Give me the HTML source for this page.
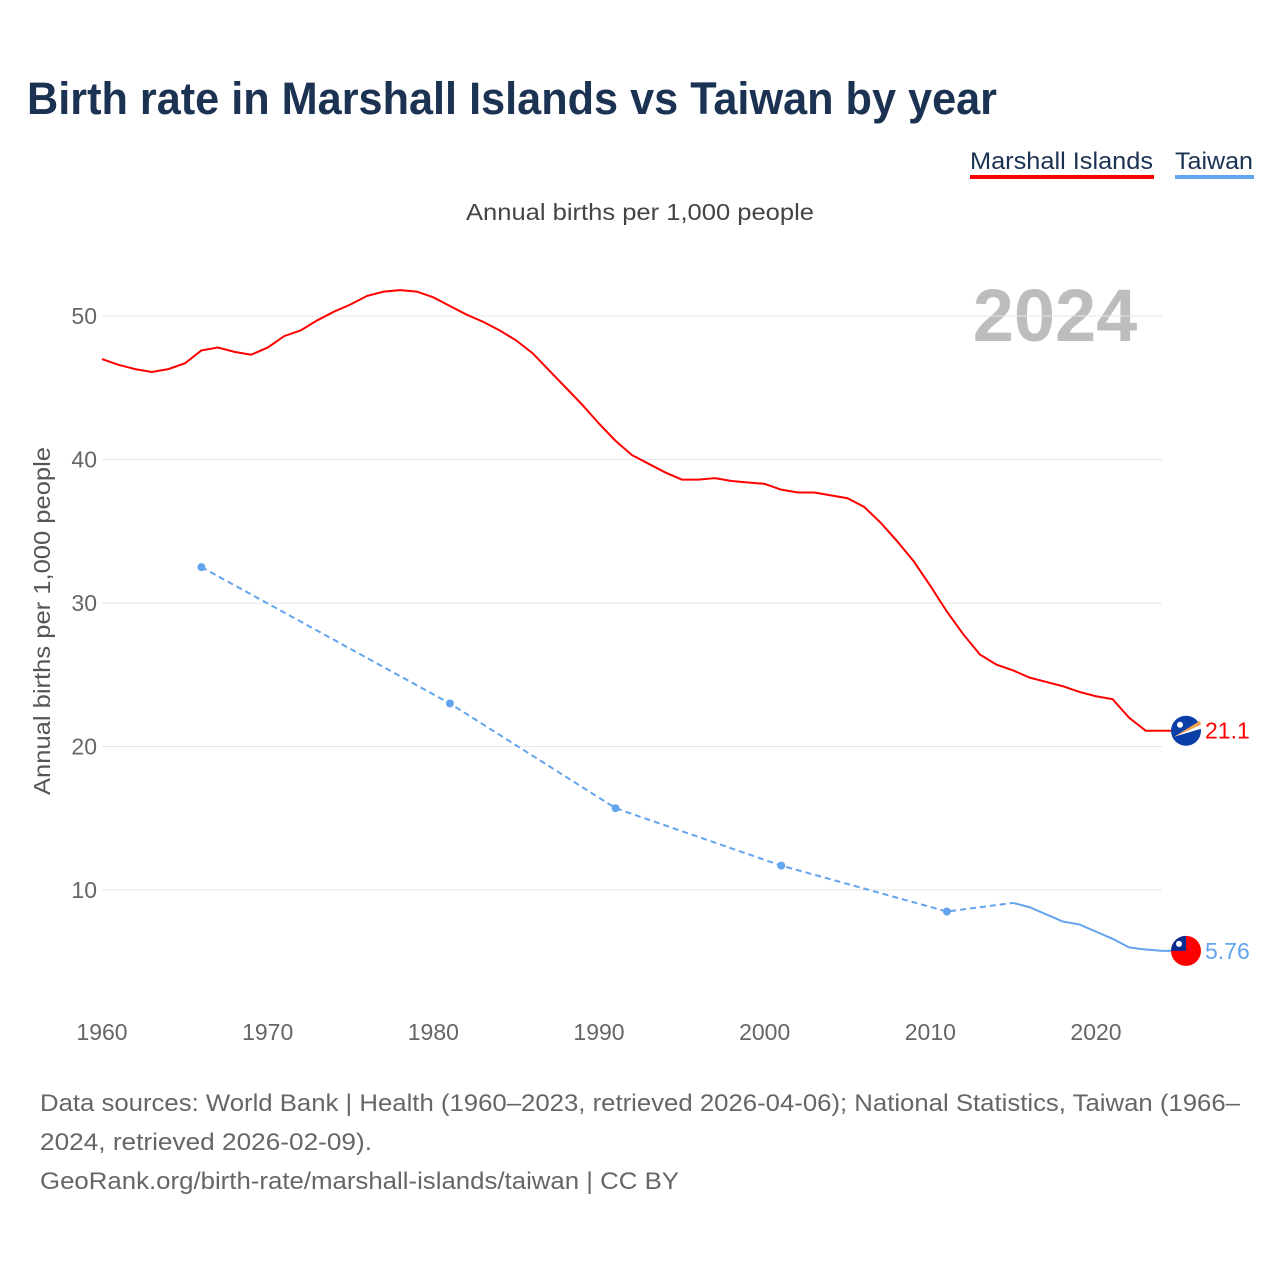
<!DOCTYPE html>
<html><head><meta charset="utf-8"><style>
body{margin:0;background:#fff;width:1280px;height:1280px;overflow:hidden;font-family:"Liberation Sans",sans-serif}
</style></head><body>
<svg width="1280" height="1280" font-family="Liberation Sans, sans-serif">
<text x="27" y="114" font-size="45" font-weight="bold" fill="#1b3252" textLength="970" lengthAdjust="spacingAndGlyphs">Birth rate in Marshall Islands vs Taiwan by year</text>
<g>
<text x="970" y="169" font-size="24" fill="#1b3252" textLength="183" lengthAdjust="spacingAndGlyphs">Marshall Islands</text>
<rect x="970" y="175" width="184" height="4" fill="#ff0000"/>
<text x="1175" y="169" font-size="24" fill="#1b3252" textLength="78" lengthAdjust="spacingAndGlyphs">Taiwan</text>
<rect x="1175" y="175" width="79" height="4" fill="#63a4ee"/>
</g>
<text x="640" y="220" font-size="23" fill="#444" text-anchor="middle" textLength="348" lengthAdjust="spacingAndGlyphs">Annual births per 1,000 people</text>
<text x="1055" y="341" font-size="74" font-weight="bold" fill="#bdbdbd" text-anchor="middle">2024</text>
<text transform="translate(50,621) rotate(-90)" font-size="23" fill="#555" text-anchor="middle" textLength="348" lengthAdjust="spacingAndGlyphs">Annual births per 1,000 people</text>
<g id="grid"></g><g id="xt"></g><g id="series"></g>
<text x="40" y="1111" font-size="24" fill="#666" textLength="1200" lengthAdjust="spacingAndGlyphs">Data sources: World Bank | Health (1960–2023, retrieved 2026-04-06); National Statistics, Taiwan (1966–</text>
<text x="40" y="1150" font-size="24" fill="#666" textLength="332" lengthAdjust="spacingAndGlyphs">2024, retrieved 2026-02-09).</text>
<text x="40" y="1189" font-size="24" fill="#666" textLength="639" lengthAdjust="spacingAndGlyphs">GeoRank.org/birth-rate/marshall-islands/taiwan | CC BY</text>
</svg>
<script>
const yTicks=[10,20,30,40,50];
const xTicks=[1960,1970,1980,1990,2000,2010,2020];
const mhYears=[];for(let y=1960;y<=2023;y++)mhYears.push(y);
const mhVals=[47.0,46.6,46.3,46.1,46.3,46.7,47.6,47.8,47.5,47.3,47.8,48.6,49.0,49.7,50.3,50.8,51.4,51.7,51.8,51.7,51.3,50.7,50.1,49.6,49.0,48.3,47.4,46.2,45.0,43.8,42.5,41.3,40.3,39.7,39.1,38.6,38.6,38.7,38.5,38.4,38.3,37.9,37.7,37.7,37.5,37.3,36.7,35.6,34.3,32.9,31.2,29.4,27.8,26.4,25.7,25.3,24.8,24.5,24.2,23.8,23.5,23.3,22.0,21.1];
const twDashYears=[1966,1981,1991,2001,2011,2015];
const twDashVals=[32.5,23.0,15.7,11.7,8.5,9.1];
const twYears=[2015,2016,2017,2018,2019,2020,2021,2022,2023,2024];
const twVals=[9.1,8.8,8.3,7.8,7.6,7.1,6.6,6.0,5.85,5.76];
const X=y=>102+(y-1960)*994/60, Y=v=>1033.5-v*14.35;
const NS="http://www.w3.org/2000/svg";
function mk(t,a,p){const e=document.createElementNS(NS,t);for(const k in a)e.setAttribute(k,a[k]);p.appendChild(e);return e;}
const g=document.getElementById('grid'),xt=document.getElementById('xt'),s=document.getElementById('series');
yTicks.forEach(v=>{
const l=mk('line',{x1:102,x2:1162,y1:Y(v),y2:Y(v),stroke:'#e6e6e6','stroke-width':1},g);


const t=mk('text',{x:97,y:Y(v)+8,'font-size':23,fill:'#666','text-anchor':'end'},g);t.textContent=v;


});
xTicks.forEach(v=>{
const t=mk('text',{x:X(v),y:1040,'font-size':23,fill:'#666','text-anchor':'middle'},xt);t.textContent=v;


});
const last=mhVals[mhVals.length-1];
const mh=mk('path',{d:'M'+mhYears.map((y,i)=>X(y)+','+Y(mhVals[i])).join('L')+'L1172,'+Y(last),fill:'none',stroke:'#ff0000','stroke-width':2},s);


const td=mk('path',{d:'M'+twDashYears.map((y,i)=>X(y)+','+Y(twDashVals[i])).join('L'),fill:'none',stroke:'#63a4ee','stroke-width':2,'stroke-dasharray':'6,4'},s);


twDashYears.slice(0,5).forEach((y,i)=>{
const c=mk('circle',{cx:X(y),cy:Y(twDashVals[i]),r:4,fill:'#63a4ee'},s);


});
const tl=mk('path',{d:'M'+twYears.map((y,i)=>X(y)+','+Y(twVals[i])).join('L')+'L1172,'+Y(twVals[twVals.length-1]),fill:'none',stroke:'#63a4ee','stroke-width':2},s);


const fy1=Y(last),fy2=Y(twVals[twVals.length-1]);
const f1=mk('g',{},s);


mk('circle',{cx:1186,cy:fy1,r:15,fill:'#0b3fa8'},f1);
mk('path',{d:`M1174,${fy1+6}L1200,${fy1-10}L1201,${fy1-6}Z`,fill:'#f7a14a'},f1);
mk('path',{d:`M1174,${fy1+6}L1201,${fy1-6}L1201,${fy1-2}Z`,fill:'#fff'},f1);
mk('circle',{cx:1180,cy:fy1-6,r:3,fill:'#fff'},f1);
const l1=mk('text',{x:1205,y:fy1+8,'font-size':23,fill:'#ff0000'},s);l1.textContent=last;


const f2=mk('g',{},s);


mk('circle',{cx:1186,cy:fy2,r:15,fill:'#ff0000'},f2);
mk('path',{d:`M1171,${fy2}A15,15 0 0 1 1186,${fy2-15}L1186,${fy2}Z`,fill:'#0b2d8f'},f2);
mk('circle',{cx:1179,cy:fy2-7,r:3,fill:'#fff'},f2);
const l2=mk('text',{x:1205,y:fy2+8,'font-size':23,fill:'#63a4ee'},s);l2.textContent=twVals[twVals.length-1];


</script>
</body></html>
